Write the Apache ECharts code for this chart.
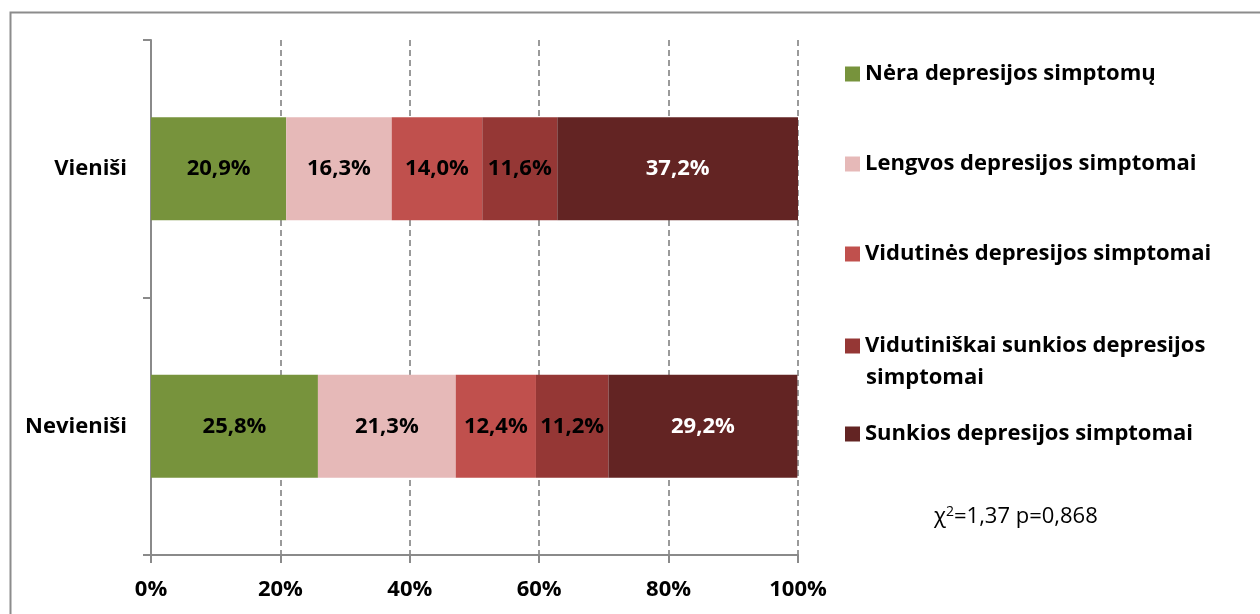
<!DOCTYPE html>
<html>
<head>
<meta charset="utf-8">
<script src="https://cdn.jsdelivr.net/npm/echarts@6/dist/echarts.min.js"></script>
<style>
  html, body { margin: 0; padding: 0; background: #fff; }
  #chart { width: 1260px; height: 614px; }
</style>
</head>
<body>
<div id="chart"></div>
<script>
// Groups shown on the category axis
const groups = ['Vieniši', 'Nevieniši'];

// Severity levels of depression symptoms (stack order, left to right)
const levels = [
  'Nėra depresijos simptomų',
  'Lengvos depresijos simptomai',
  'Vidutinės depresijos simptomai',
  'Vidutiniškai sunkios depresijos simptomai',
  'Sunkios depresijos simptomai'
];

// Percentages per level: [Vieniši, Nevieniši]
const noneVals     = [20.9, 25.8];
const mildVals     = [16.3, 21.3];
const moderateVals = [14.0, 12.4];
const modSevVals   = [11.6, 11.2];
const severeVals   = [37.2, 29.2];

const xTicks = [0, 20, 40, 60, 80, 100];
const statText = '=1,37 p=0,868';

const colors = ['#77933C', '#E6B9B8', '#C0504D', '#953735', '#632423'];
const labelColors = ['#000', '#000', '#000', '#000', '#fff'];
const FONT = '"Open Sans", sans-serif';
const FS = 22;

const seriesValues = [noneVals, mildVals, moderateVals, modSevVals, severeVals];

const series = levels.map((name, i) => ({
  name: name,
  type: 'bar',
  stack: 'total',
  barWidth: 103,
  itemStyle: { color: colors[i] },
  label: {
    show: true,
    position: 'inside',
    color: labelColors[i],
    fontFamily: FONT,
    fontWeight: 'bold',
    fontSize: FS,
    formatter: p => p.value.toFixed(1).replace('.', ',') + '%'
  },
  data: seriesValues[i]
}));

// Legend rows: one legend per row so each row sits at its own height
const legendRows = [63, 153, 243, 335, 423];
const legends = levels.map((name, i) => ({
  data: [name],
  left: 845,
  top: legendRows[i],
  padding: 0,
  icon: 'rect',
  itemWidth: 15,
  itemHeight: 15,
  selectedMode: false,
  formatter: n => n === levels[3] ? 'Vidutiniškai sunkios depresijos' : n,
  textStyle: { fontFamily: FONT, fontWeight: 'bold', fontSize: FS, color: '#000' }
}));

const chart = echarts.init(document.getElementById('chart'), null, { renderer: 'canvas' });
chart.setOption({
  animation: false,
  color: colors,
  grid: { left: 151, right: 462, top: 40, bottom: 59 },
  legend: legends,
  xAxis: {
    type: 'value',
    min: 0,
    max: 100,
    interval: 20,
    axisLine: { show: true, lineStyle: { color: '#8a8a8a', width: 2 } },
    axisTick: { show: true, length: 8, lineStyle: { color: '#8a8a8a', width: 2 } },
    splitLine: { show: true, lineStyle: { color: '#9a9a9a', width: 2, type: [6, 4] } },
    axisLabel: {
      margin: 24,
      fontFamily: FONT,
      fontWeight: 'bold',
      fontSize: FS,
      color: '#000',
      formatter: v => xTicks.includes(v) ? v + '%' : ''
    }
  },
  yAxis: {
    type: 'category',
    inverse: true,
    data: groups,
    axisLine: { show: true, lineStyle: { color: '#8a8a8a', width: 2 } },
    axisTick: { show: true, length: 8, lineStyle: { color: '#8a8a8a', width: 2 } },
    axisLabel: {
      margin: 24,
      padding: [4, 0, 0, 0],
      fontFamily: FONT,
      fontWeight: 'bold',
      fontSize: FS,
      color: '#000'
    }
  },
  graphic: [
    {
      type: 'rect',
      left: 8, top: 10,
      shape: { width: 1270, height: 620 },
      style: { fill: 'none', stroke: '#8c8c8c', lineWidth: 2 },
      silent: true
    },
    {
      type: 'text',
      left: 866, top: 367,
      style: { text: 'simptomai', font: 'bold ' + FS + 'px ' + FONT, fill: '#000' }
    },
    {
      type: 'text',
      left: 934, top: 505,
      style: {
        text: '{g|χ}{s|2}{t|' + statText + '}',
        rich: {
          g: { font: FS + 'px ' + FONT, fill: '#000', verticalAlign: 'bottom' },
          s: { font: '14px ' + FONT, fill: '#000', verticalAlign: 'top', padding: [0, 0, 9, 0] },
          t: { font: FS + 'px ' + FONT, fill: '#000', verticalAlign: 'bottom' }
        }
      }
    }
  ],
  series: series
});
</script>
</body>
</html>
